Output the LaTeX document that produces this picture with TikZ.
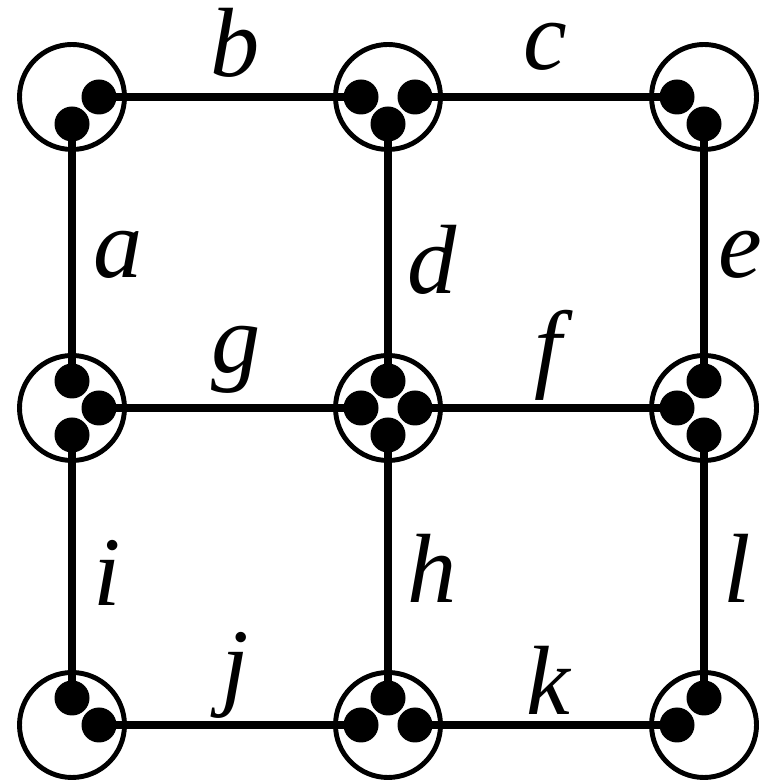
\documentclass[tikz,border=0pt]{standalone}
\usepackage{fontspec}
\setmainfont{Liberation Serif}
\usepackage{tikz}
\tikzset{
  site/.style={circle,draw=black,fill=white,line width=1.4pt,
    minimum size=10.5mm,inner sep=0pt},
  dot/.style={circle,fill=black,minimum size=3.5mm,inner sep=0pt},
  edge/.style={draw=black,line width=2.1pt},
  lab/.style={inner sep=0pt,font=\fontsize{28}{32}\selectfont\itshape}
}

\begin{document}
\begin{tikzpicture}
  \useasboundingbox (0,0) rectangle (7.65,7.83);
  % sites
  \node[site] (tl) at (0.72,6.86) {};
  \node[site] (tm) at (3.88,6.86) {};
  \node[site] (tr) at (7.04,6.86) {};
  \node[site] (ml) at (0.72,3.75) {};
  \node[site] (mm) at (3.88,3.75) {};
  \node[site] (mr) at (7.04,3.75) {};
  \node[site] (bl) at (0.72,0.58) {};
  \node[site] (bm) at (3.88,0.58) {};
  \node[site] (br) at (7.04,0.58) {};
  % dots
  \node[dot] (tl-e) at ([xshift=2.7mm]tl.center) {};
  \node[dot] (tl-s) at ([yshift=-2.7mm]tl.center) {};
  \node[dot] (tm-w) at ([xshift=-2.7mm]tm.center) {};
  \node[dot] (tm-e) at ([xshift=2.7mm]tm.center) {};
  \node[dot] (tm-s) at ([yshift=-2.7mm]tm.center) {};
  \node[dot] (tr-w) at ([xshift=-2.7mm]tr.center) {};
  \node[dot] (tr-s) at ([yshift=-2.7mm]tr.center) {};
  \node[dot] (ml-n) at ([yshift=2.7mm]ml.center) {};
  \node[dot] (ml-e) at ([xshift=2.7mm]ml.center) {};
  \node[dot] (ml-s) at ([yshift=-2.7mm]ml.center) {};
  \node[dot] (mm-n) at ([yshift=2.7mm]mm.center) {};
  \node[dot] (mm-w) at ([xshift=-2.7mm]mm.center) {};
  \node[dot] (mm-e) at ([xshift=2.7mm]mm.center) {};
  \node[dot] (mm-s) at ([yshift=-2.7mm]mm.center) {};
  \node[dot] (mr-n) at ([yshift=2.7mm]mr.center) {};
  \node[dot] (mr-w) at ([xshift=-2.7mm]mr.center) {};
  \node[dot] (mr-s) at ([yshift=-2.7mm]mr.center) {};
  \node[dot] (bl-n) at ([yshift=2.7mm]bl.center) {};
  \node[dot] (bl-e) at ([xshift=2.7mm]bl.center) {};
  \node[dot] (bm-n) at ([yshift=2.7mm]bm.center) {};
  \node[dot] (bm-w) at ([xshift=-2.7mm]bm.center) {};
  \node[dot] (bm-e) at ([xshift=2.7mm]bm.center) {};
  \node[dot] (br-n) at ([yshift=2.7mm]br.center) {};
  \node[dot] (br-w) at ([xshift=-2.7mm]br.center) {};
  % bonds
  \draw[edge] (tl-e.center) -- (tm-w.center);
  \draw[edge] (tm-e.center) -- (tr-w.center);
  \draw[edge] (tl-s.center) -- (ml-n.center);
  \draw[edge] (tm-s.center) -- (mm-n.center);
  \draw[edge] (tr-s.center) -- (mr-n.center);
  \draw[edge] (ml-e.center) -- (mm-w.center);
  \draw[edge] (mm-e.center) -- (mr-w.center);
  \draw[edge] (ml-s.center) -- (bl-n.center);
  \draw[edge] (mm-s.center) -- (bm-n.center);
  \draw[edge] (mr-s.center) -- (br-n.center);
  \draw[edge] (bl-e.center) -- (bm-w.center);
  \draw[edge] (bm-e.center) -- (br-w.center);
  % labels
  \node[lab] (lab-a) at (1.18,5.28) {a};
  \node[lab] (lab-b) at (2.35,7.40) {b};
  \node[lab] (lab-c) at (5.45,7.36) {c};
  \node[lab] (lab-d) at (4.32,5.23) {d};
  \node[lab] (lab-e) at (7.40,5.28) {e};
  \node[lab] (lab-f) at (5.48,4.28) {f};
  \node[lab] (lab-g) at (2.36,4.23) {g};
  \node[lab] (lab-h) at (4.32,2.15) {h};
  \node[lab] (lab-i) at (1.07,2.10) {i};
  \node[lab] (lab-j) at (2.35,1.08) {j};
  \node[lab] (lab-k) at (5.48,1.03) {k};
  \node[lab] (lab-l) at (7.37,2.15) {l};
\end{tikzpicture}
\end{document}
